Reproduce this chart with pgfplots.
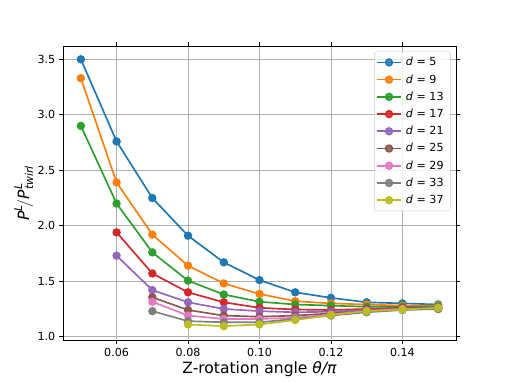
\documentclass[border=0pt]{standalone}
\usepackage{fontspec}
\setmainfont{DejaVu Sans}
\usepackage{amsmath}
\usepackage{pgfplots}
\pgfplotsset{compat=1.18}

\definecolor{c1}{HTML}{1F77B4}
\definecolor{c2}{HTML}{FF7F0E}
\definecolor{c3}{HTML}{2CA02C}
\definecolor{c4}{HTML}{D62728}
\definecolor{c5}{HTML}{9467BD}
\definecolor{c6}{HTML}{8C564B}
\definecolor{c7}{HTML}{E377C2}
\definecolor{c8}{HTML}{7F7F7F}
\definecolor{c9}{HTML}{BCBD22}

\pgfplotsset{
  dser/.style={color=#1, line width=1.5pt, mark=*, mark size=3pt, mark options={solid, fill=#1, draw=#1}},
}

\begin{document}
\begin{tikzpicture}
\begin{axis}[
  width=353.7pt, height=264.6pt,
  scale only axis,
  xmin=0.045, xmax=0.155,
  ymin=0.97, ymax=3.62,
  xtick={0.06,0.08,0.10,0.12,0.14},
  ytick={1.0,1.5,2.0,2.5,3.0,3.5},
  xticklabel style={/pgf/number format/fixed,/pgf/number format/precision=2,/pgf/number format/fixed zerofill},
  yticklabel style={/pgf/number format/fixed,/pgf/number format/precision=1,/pgf/number format/fixed zerofill},
  /pgf/number format/assume math mode=true,
  tick label style={font=\fontsize{10}{12}\selectfont},
  label style={font=\fontsize{14}{16}\selectfont},
  xlabel={Z-rotation angle {\itshape θ/π}},
  ylabel={$\text{\itshape P}^{\text{\itshape L}}\!/\text{\itshape P}^{\text{\itshape L}}_{\text{\itshape twirl}}$},
  xlabel style={yshift=2pt},
  ylabel style={yshift=-3pt},
  grid=major,
  major grid style={draw=black!31, line width=0.8pt},
  tick align=outside,
  major tick length=3.5pt,
  tick style={black, line width=0.8pt},
  axis line style={black, line width=0.8pt},
  legend image code/.code={
    \draw[mark repeat=2, mark phase=2] plot coordinates {(0pt,0pt) (10.5pt,0pt) (21pt,0pt)};
  },
  legend style={at={(0.986,0.981)}, anchor=north east, font=\fontsize{10}{12}\selectfont,
    draw={rgb,255:red,204;green,204;blue,204}, fill=white, fill opacity=0.8, text opacity=1,
    rounded corners=2pt, row sep=2.4pt, inner xsep=2pt, inner ysep=3pt,
    nodes={inner xsep=4pt}},
  legend cell align=left,
]
\addplot[dser=c1] coordinates {(0.05,3.50) (0.06,2.76) (0.07,2.25) (0.08,1.91) (0.09,1.67) (0.10,1.51) (0.11,1.40) (0.12,1.35) (0.13,1.31) (0.14,1.30) (0.15,1.29)};
\addlegendentry{\textit{d} = 5}
\addplot[dser=c2] coordinates {(0.05,3.33) (0.06,2.39) (0.07,1.92) (0.08,1.64) (0.09,1.48) (0.10,1.385) (0.11,1.32) (0.12,1.30) (0.13,1.29) (0.14,1.28) (0.15,1.28)};
\addlegendentry{\textit{d} = 9}
\addplot[dser=c3] coordinates {(0.05,2.90) (0.06,2.20) (0.07,1.76) (0.08,1.505) (0.09,1.38) (0.10,1.315) (0.11,1.29) (0.12,1.28) (0.13,1.27) (0.14,1.27) (0.15,1.27)};
\addlegendentry{\textit{d} = 13}
\addplot[dser=c4] coordinates {(0.06,1.94) (0.07,1.57) (0.08,1.40) (0.09,1.31) (0.10,1.26) (0.11,1.245) (0.12,1.24) (0.13,1.25) (0.14,1.26) (0.15,1.26)};
\addlegendentry{\textit{d} = 17}
\addplot[dser=c5] coordinates {(0.06,1.73) (0.07,1.42) (0.08,1.31) (0.09,1.25) (0.10,1.23) (0.11,1.22) (0.12,1.225) (0.13,1.24) (0.14,1.25) (0.15,1.26)};
\addlegendentry{\textit{d} = 21}
\addplot[dser=c6] coordinates {(0.07,1.355) (0.08,1.24) (0.09,1.19) (0.10,1.18) (0.11,1.19) (0.12,1.21) (0.13,1.23) (0.14,1.25) (0.15,1.25)};
\addlegendentry{\textit{d} = 25}
\addplot[dser=c7] coordinates {(0.07,1.315) (0.08,1.19) (0.09,1.16) (0.10,1.16) (0.11,1.17) (0.12,1.20) (0.13,1.23) (0.14,1.25) (0.15,1.25)};
\addlegendentry{\textit{d} = 29}
\addplot[dser=c8] coordinates {(0.07,1.23) (0.08,1.14) (0.09,1.13) (0.10,1.13) (0.11,1.16) (0.12,1.19) (0.13,1.22) (0.14,1.24) (0.15,1.25)};
\addlegendentry{\textit{d} = 33}
\addplot[dser=c9] coordinates {(0.08,1.11) (0.09,1.095) (0.10,1.11) (0.11,1.15) (0.12,1.195) (0.13,1.23) (0.14,1.245) (0.15,1.26)};
\addlegendentry{\textit{d} = 37}
\end{axis}
% page size matching the reference figure
\path (current axis.south west) ++(-56.7pt,-36.9pt) coordinate (bbA);
\path (current axis.north east) ++(46.8pt,41.4pt) coordinate (bbB);
\path (bbA) rectangle (bbB);
\end{tikzpicture}
\end{document}
